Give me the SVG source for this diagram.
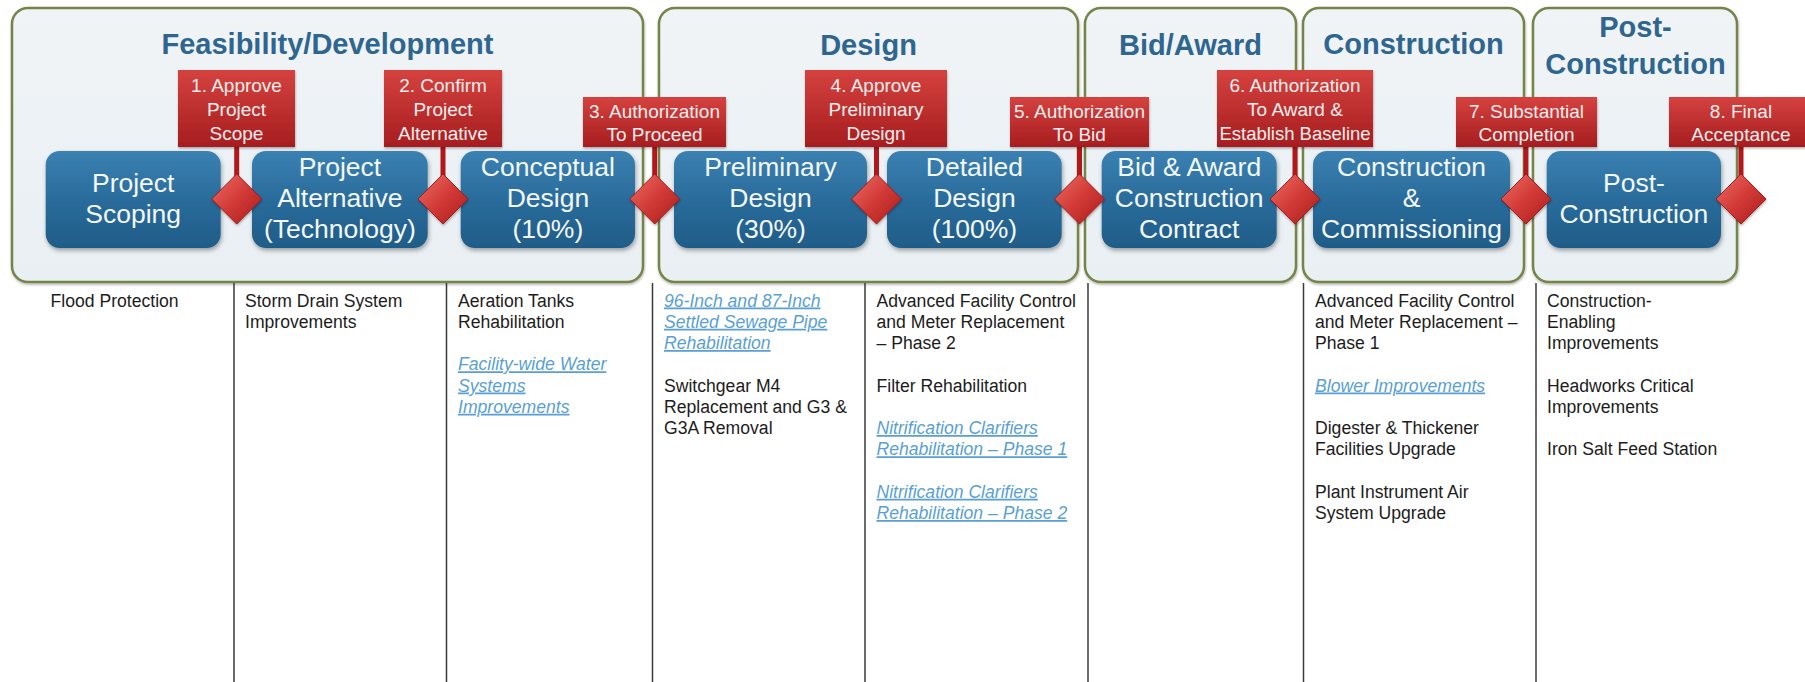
<svg xmlns="http://www.w3.org/2000/svg" width="1805" height="682" viewBox="0 0 1805 682">
<defs>
  <linearGradient id="gBlue" x1="0" y1="0" x2="0" y2="1">
    <stop offset="0" stop-color="#3a81b2"/>
    <stop offset="0.5" stop-color="#2a6c9b"/>
    <stop offset="1" stop-color="#1f5c88"/>
  </linearGradient>
  <linearGradient id="gRed" x1="0" y1="0" x2="0" y2="1">
    <stop offset="0" stop-color="#d5423f"/>
    <stop offset="1" stop-color="#a61d1f"/>
  </linearGradient>
  <linearGradient id="gDia" x1="0" y1="0" x2="1" y2="1">
    <stop offset="0" stop-color="#ee6f66"/>
    <stop offset="0.5" stop-color="#d23a36"/>
    <stop offset="1" stop-color="#aa1c1c"/>
  </linearGradient>
  <linearGradient id="gPhase" x1="0" y1="0" x2="0" y2="1">
    <stop offset="0" stop-color="#f0f4f7"/>
    <stop offset="1" stop-color="#e9eff3"/>
  </linearGradient>
  <filter id="sh" x="-10%" y="-10%" width="120%" height="130%">
    <feDropShadow dx="1" dy="2.5" stdDeviation="2" flood-color="#000" flood-opacity="0.35"/>
  </filter>
  <filter id="shs" x="-10%" y="-10%" width="120%" height="130%">
    <feDropShadow dx="0.5" dy="1.5" stdDeviation="1.2" flood-color="#000" flood-opacity="0.3"/>
  </filter>
  <style>
    .phase{fill:url(#gPhase);stroke:#74854a;stroke-width:2.5;filter:url(#shs)}
    .ptitle{font-family:"Liberation Sans",Arial,sans-serif;font-weight:bold;font-size:29px;fill:#2e6690;text-anchor:middle}
    .step{fill:url(#gBlue);filter:url(#sh)}
    .stxt{font-family:"Liberation Sans",Arial,sans-serif;font-size:26.5px;fill:#f3f7fa;text-anchor:middle}
    .lab{fill:url(#gRed);filter:url(#shs)}
    .ltxt{font-family:"Liberation Sans",Arial,sans-serif;font-size:19px;fill:#fbeeee;text-anchor:middle}
    .dia{fill:url(#gDia);stroke:#a51a1a;stroke-width:1;stroke-linejoin:round;filter:url(#shs)}
    .stem{fill:#b3161b}
    .col{stroke:#3a3a3a;stroke-width:1.5}
    .body{font-family:"Liberation Sans",Arial,sans-serif;font-size:17.6px;fill:#1c1c1c}
    .link{font-family:"Liberation Sans",Arial,sans-serif;font-size:17.6px;fill:#5a9fd4;font-style:italic;text-decoration:underline}
  </style>
</defs>
<rect width="1805" height="682" fill="#ffffff"/>

<!-- Phase containers -->
<g id="phase-feasibility">
  <rect class="phase" x="12" y="8" width="631" height="274" rx="16"/>
  <text class="ptitle" x="327.5" y="54">Feasibility/Development</text>
</g>
<g id="phase-design">
  <rect class="phase" x="659" y="8" width="419" height="274" rx="16"/>
  <text class="ptitle" x="868.5" y="55">Design</text>
</g>
<g id="phase-bid">
  <rect class="phase" x="1085" y="8" width="211" height="274" rx="16"/>
  <text class="ptitle" x="1190.5" y="55">Bid/Award</text>
</g>
<g id="phase-construction">
  <rect class="phase" x="1303" y="8" width="221" height="274" rx="16"/>
  <text class="ptitle" x="1413.5" y="54">Construction</text>
</g>
<g id="phase-post">
  <rect class="phase" x="1533" y="8" width="204" height="274" rx="16"/>
  <text class="ptitle" x="1635.5" y="37">Post-</text>
  <text class="ptitle" x="1635.5" y="74">Construction</text>
</g>

<!-- Column dividers -->
<g id="dividers">
  <line class="col" x1="234" y1="283" x2="234" y2="682"/>
  <line class="col" x1="446.5" y1="283" x2="446.5" y2="682"/>
  <line class="col" x1="652.5" y1="283" x2="652.5" y2="682"/>
  <line class="col" x1="865" y1="283" x2="865" y2="682"/>
  <line class="col" x1="1088" y1="283" x2="1088" y2="682"/>
  <line class="col" x1="1303.5" y1="283" x2="1303.5" y2="682"/>
  <line class="col" x1="1536" y1="283" x2="1536" y2="682"/>
</g>

<!-- Process steps -->
<g id="step-scoping">
  <rect class="step" x="45.7" y="151" width="175" height="97" rx="14"/>
  <text class="stxt" x="133.2" y="192">Project</text>
  <text class="stxt" x="133.2" y="223">Scoping</text>
</g>
<g id="step-alternative">
  <rect class="step" x="252" y="151" width="175.7" height="97" rx="14"/>
  <text class="stxt" x="339.9" y="176">Project</text>
  <text class="stxt" x="339.9" y="207">Alternative</text>
  <text class="stxt" x="339.9" y="238">(Technology)</text>
</g>
<g id="step-conceptual">
  <rect class="step" x="460.7" y="151" width="174.3" height="97" rx="14"/>
  <text class="stxt" x="547.9" y="176">Conceptual</text>
  <text class="stxt" x="547.9" y="207">Design</text>
  <text class="stxt" x="547.9" y="238">(10%)</text>
</g>
<g id="step-preliminary">
  <rect class="step" x="674" y="151" width="193" height="97" rx="14"/>
  <text class="stxt" x="770.5" y="176">Preliminary</text>
  <text class="stxt" x="770.5" y="207">Design</text>
  <text class="stxt" x="770.5" y="238">(30%)</text>
</g>
<g id="step-detailed">
  <rect class="step" x="887" y="151" width="174.7" height="97" rx="14"/>
  <text class="stxt" x="974.4" y="176">Detailed</text>
  <text class="stxt" x="974.4" y="207">Design</text>
  <text class="stxt" x="974.4" y="238">(100%)</text>
</g>
<g id="step-bid">
  <rect class="step" x="1101.7" y="151" width="175" height="97" rx="14"/>
  <text class="stxt" x="1189.2" y="176">Bid &amp; Award</text>
  <text class="stxt" x="1189.2" y="207">Construction</text>
  <text class="stxt" x="1189.2" y="238">Contract</text>
</g>
<g id="step-construction">
  <rect class="step" x="1313" y="151" width="197" height="97" rx="14"/>
  <text class="stxt" x="1411.5" y="176">Construction</text>
  <text class="stxt" x="1411.5" y="207">&amp;</text>
  <text class="stxt" x="1411.5" y="238">Commissioning</text>
</g>
<g id="step-post">
  <rect class="step" x="1546.7" y="151" width="174.3" height="97" rx="14"/>
  <text class="stxt" x="1633.9" y="192">Post-</text>
  <text class="stxt" x="1633.9" y="223">Construction</text>
</g>

<!-- Connectors: milestone stems -->
<g id="connectors">
  <rect class="stem" x="234.2" y="147" width="5" height="31"/>
  <rect class="stem" x="440.5" y="147" width="5" height="31"/>
  <rect class="stem" x="652.2" y="147" width="5" height="31"/>
  <rect class="stem" x="874" y="147" width="5" height="31"/>
  <rect class="stem" x="1077" y="147" width="5" height="31"/>
  <rect class="stem" x="1292.5" y="147" width="5" height="31"/>
  <rect class="stem" x="1523.5" y="147" width="5" height="31"/>
  <rect class="stem" x="1738.5" y="147" width="5" height="31"/>
</g>

<!-- Milestones -->
<g id="milestone-1">
  <rect class="lab" x="178" y="70" width="117" height="77"/>
  <text class="ltxt" x="236.5" y="92">1. Approve</text>
  <text class="ltxt" x="236.5" y="116">Project</text>
  <text class="ltxt" x="236.5" y="140">Scope</text>
  <polygon class="dia" points="236.7,174 261.7,199 236.7,224 211.7,199"/>
</g>
<g id="milestone-2">
  <rect class="lab" x="384" y="70" width="118" height="77"/>
  <text class="ltxt" x="443" y="92">2. Confirm</text>
  <text class="ltxt" x="443" y="116">Project</text>
  <text class="ltxt" x="443" y="140">Alternative</text>
  <polygon class="dia" points="443,174 468,199 443,224 418,199"/>
</g>
<g id="milestone-3">
  <rect class="lab" x="583" y="97" width="143" height="50"/>
  <text class="ltxt" x="654.5" y="118">3. Authorization</text>
  <text class="ltxt" x="654.5" y="141">To Proceed</text>
  <polygon class="dia" points="654.7,174 679.7,199 654.7,224 629.7,199"/>
</g>
<g id="milestone-4">
  <rect class="lab" x="805" y="70" width="142" height="77"/>
  <text class="ltxt" x="876" y="92">4. Approve</text>
  <text class="ltxt" x="876" y="116">Preliminary</text>
  <text class="ltxt" x="876" y="140">Design</text>
  <polygon class="dia" points="876.5,174 901.5,199 876.5,224 851.5,199"/>
</g>
<g id="milestone-5">
  <rect class="lab" x="1010" y="97" width="139" height="50"/>
  <text class="ltxt" x="1079.5" y="118">5. Authorization</text>
  <text class="ltxt" x="1079.5" y="141">To Bid</text>
  <polygon class="dia" points="1079.5,174 1104.5,199 1079.5,224 1054.5,199"/>
</g>
<g id="milestone-6">
  <rect class="lab" x="1217" y="70" width="156" height="77"/>
  <text class="ltxt" x="1295" y="92">6. Authorization</text>
  <text class="ltxt" x="1295" y="116">To Award &amp;</text>
  <text class="ltxt" x="1295" y="140" style="font-size:18.5px">Establish Baseline</text>
  <polygon class="dia" points="1295,174 1320,199 1295,224 1270,199"/>
</g>
<g id="milestone-7">
  <rect class="lab" x="1456" y="97" width="141" height="50"/>
  <text class="ltxt" x="1526.5" y="118">7. Substantial</text>
  <text class="ltxt" x="1526.5" y="141">Completion</text>
  <polygon class="dia" points="1526,174 1551,199 1526,224 1501,199"/>
</g>
<g id="milestone-8">
  <rect class="lab" x="1669" y="97" width="144" height="50"/>
  <text class="ltxt" x="1741" y="118">8. Final</text>
  <text class="ltxt" x="1741" y="141">Acceptance</text>
  <polygon class="dia" points="1741,174 1766,199 1741,224 1716,199"/>
</g>

<!-- Project lists -->
<g id="list-feasibility-scoping">
  <text class="body" x="50.5" y="306.5">Flood Protection</text>
</g>
<g id="list-alternative">
  <text class="body" x="245" y="306.5">Storm Drain System</text>
  <text class="body" x="245" y="327.75">Improvements</text>
</g>
<g id="list-conceptual">
  <text class="body" x="458" y="306.5">Aeration Tanks</text>
  <text class="body" x="458" y="327.75">Rehabilitation</text>
  <text class="link" x="458" y="370.25">Facility-wide Water</text>
  <text class="link" x="458" y="391.5">Systems</text>
  <text class="link" x="458" y="412.75">Improvements</text>
</g>
<g id="list-preliminary">
  <text class="link" x="664" y="306.5">96-Inch and 87-Inch</text>
  <text class="link" x="664" y="327.75">Settled Sewage Pipe</text>
  <text class="link" x="664" y="349">Rehabilitation</text>
  <text class="body" x="664" y="391.5">Switchgear M4</text>
  <text class="body" x="664" y="412.75">Replacement and G3 &amp;</text>
  <text class="body" x="664" y="434">G3A Removal</text>
</g>
<g id="list-detailed">
  <text class="body" x="876.5" y="306.5">Advanced Facility Control</text>
  <text class="body" x="876.5" y="327.75">and Meter Replacement</text>
  <text class="body" x="876.5" y="349">– Phase 2</text>
  <text class="body" x="876.5" y="391.5">Filter Rehabilitation</text>
  <text class="link" x="876.5" y="434">Nitrification Clarifiers</text>
  <text class="link" x="876.5" y="455.25">Rehabilitation – Phase 1</text>
  <text class="link" x="876.5" y="497.75">Nitrification Clarifiers</text>
  <text class="link" x="876.5" y="519">Rehabilitation – Phase 2</text>
</g>
<g id="list-construction">
  <text class="body" x="1315" y="306.5">Advanced Facility Control</text>
  <text class="body" x="1315" y="327.75">and Meter Replacement –</text>
  <text class="body" x="1315" y="349">Phase 1</text>
  <text class="link" x="1315" y="391.5">Blower Improvements</text>
  <text class="body" x="1315" y="434">Digester &amp; Thickener</text>
  <text class="body" x="1315" y="455.25">Facilities Upgrade</text>
  <text class="body" x="1315" y="497.75">Plant Instrument Air</text>
  <text class="body" x="1315" y="519">System Upgrade</text>
</g>
<g id="list-post">
  <text class="body" x="1547" y="306.5">Construction-</text>
  <text class="body" x="1547" y="327.75">Enabling</text>
  <text class="body" x="1547" y="349">Improvements</text>
  <text class="body" x="1547" y="391.5">Headworks Critical</text>
  <text class="body" x="1547" y="412.75">Improvements</text>
  <text class="body" x="1547" y="455.25">Iron Salt Feed Station</text>
</g>
</svg>
